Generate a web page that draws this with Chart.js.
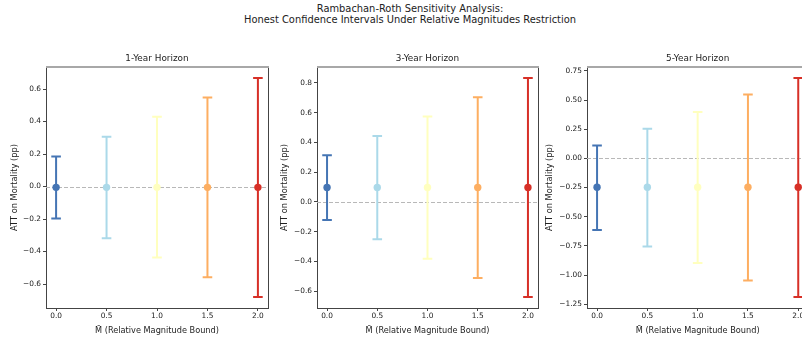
<!DOCTYPE html>
<html>
<head>
<meta charset="utf-8">
<script src="https://cdn.jsdelivr.net/npm/chart.js@4"></script>
<style>
  html, body { margin: 0; padding: 0; background: #fff; }
  #fig { position: relative; width: 802px; height: 341px; overflow: hidden; background: #fff; }
  #suptitle {
    position: absolute; left: 0; top: 3px; width: 820px; text-align: center;
    font-family: "DejaVu Sans", sans-serif; font-size: 9.9px; line-height: 11px; color: #222;
  }
  canvas { position: absolute; top: 50px; }
</style>
</head>
<body>
<div id="fig">
  <div id="suptitle">Rambachan-Roth Sensitivity Analysis:<br>Honest Confidence Intervals Under Relative Magnitudes Restriction</div>
  <canvas id="h1" width="272" height="291" style="left:0px"></canvas>
  <canvas id="h3" width="272" height="291" style="left:270px"></canvas>
  <canvas id="h5" width="272" height="291" style="left:540px"></canvas>
</div>
<script>
// M-bar values (relative magnitude bound)
var mBar = [0.0, 0.5, 1.0, 1.5, 2.0];
var xTicks = [0.0, 0.5, 1.0, 1.5, 2.0];
var barColors = ['#4575b4', '#abd9e9', '#ffffbf', '#fdae61', '#d73027'];

// 1-year horizon
var est1 = [-0.005, -0.005, -0.005, -0.005, -0.005];
var lower1 = [-0.197, -0.318, -0.437, -0.558, -0.680];
var upper1 = [0.185, 0.306, 0.429, 0.548, 0.668];
var yTicks1 = [-0.6, -0.4, -0.2, 0.0, 0.2, 0.4, 0.6];

// 3-year horizon
var est3 = [0.097, 0.097, 0.097, 0.097, 0.097];
var lower3 = [-0.121, -0.250, -0.382, -0.511, -0.639];
var upper3 = [0.313, 0.443, 0.574, 0.704, 0.833];
var yTicks3 = [-0.6, -0.4, -0.2, 0.0, 0.2, 0.4, 0.6, 0.8];

// 5-year horizon
var est5 = [-0.248, -0.248, -0.248, -0.248, -0.248];
var lower5 = [-0.613, -0.755, -0.897, -1.046, -1.188];
var upper5 = [0.111, 0.254, 0.398, 0.547, 0.689];
var yTicks5 = [-1.25, -1.00, -0.75, -0.50, -0.25, 0.00, 0.25, 0.50, 0.75];

var FONT = '"DejaVu Sans", sans-serif';
var TEXT = '#222';
var SPINE = '#444';

function fmt(v, d) {
    return v.toFixed(d).replace('-', '\u2212');
}

// error bars, zero line, subplot title and the top/right spines
var errorBarPlugin = {
    id: 'errorBars',
    beforeDatasetsDraw: function (chart) {
        var ctx = chart.ctx;
        var xs = chart.scales.x, ys = chart.scales.y;
        var area = chart.chartArea;
        var o = chart.options.plugins.errorBars;

        ctx.save();
        ctx.beginPath();
        ctx.rect(area.left, area.top, area.right - area.left, area.bottom - area.top);
        ctx.clip();

        // reference line at zero
        var y0 = Math.round(ys.getPixelForValue(0)) + 0.5;
        ctx.strokeStyle = '#b8b8b8';
        ctx.lineWidth = 1;
        ctx.setLineDash([4, 2]);
        ctx.beginPath();
        ctx.moveTo(area.left, y0);
        ctx.lineTo(area.right, y0);
        ctx.stroke();
        ctx.setLineDash([]);

        ctx.lineWidth = 2;
        for (var i = 0; i < o.x.length; i++) {
            var x = xs.getPixelForValue(o.x[i]);
            var yl = ys.getPixelForValue(o.lower[i]);
            var yu = ys.getPixelForValue(o.upper[i]);
            ctx.strokeStyle = o.colors[i];
            ctx.beginPath();
            ctx.moveTo(x, yl);
            ctx.lineTo(x, yu);
            ctx.moveTo(x - 4.8, yl);
            ctx.lineTo(x + 4.8, yl);
            ctx.moveTo(x - 4.8, yu);
            ctx.lineTo(x + 4.8, yu);
            ctx.stroke();
        }
        ctx.restore();
    },
    afterDraw: function (chart) {
        var ctx = chart.ctx;
        var area = chart.chartArea;
        var o = chart.options.plugins.errorBars;
        ctx.save();
        ctx.strokeStyle = SPINE;
        ctx.lineWidth = 1;
        ctx.beginPath();
        ctx.moveTo(area.right + 0.5, area.top);
        ctx.lineTo(area.right + 0.5, area.bottom);
        ctx.stroke();
        ctx.strokeStyle = '#a8a8a8';
        ctx.lineWidth = 2;
        ctx.beginPath();
        ctx.moveTo(area.left, area.top);
        ctx.lineTo(area.right + 1, area.top);
        ctx.stroke();

        ctx.fillStyle = TEXT;
        ctx.font = '8.9px ' + FONT;
        ctx.textAlign = 'center';
        ctx.textBaseline = 'middle';
        ctx.fillText(o.title, (area.left + area.right) / 2, area.top - 8);
        ctx.restore();
    }
};

function makePanel(id, title, est, lower, upper, yTicks, yDec, padLeft, yWidth, padRight) {
    var lo = Math.min.apply(null, lower), hi = Math.max.apply(null, upper);
    var m = (hi - lo) * 0.05;
    var points = mBar.map(function (v, i) { return { x: v, y: est[i] }; });

    new Chart(document.getElementById(id).getContext('2d'), {
        type: 'scatter',
        data: {
            datasets: [{
                data: points,
                pointRadius: 3.7,
                pointHoverRadius: 3.7,
                pointBorderWidth: 0,
                pointBackgroundColor: barColors,
                borderColor: barColors
            }]
        },
        plugins: [errorBarPlugin],
        options: {
            responsive: false,
            animation: false,
            events: [],
            layout: { padding: { top: 17, left: padLeft, right: padRight, bottom: 5 } },
            plugins: {
                legend: { display: false },
                tooltip: { enabled: false },
                errorBars: { x: mBar, lower: lower, upper: upper, colors: barColors, title: title }
            },
            scales: {
                x: {
                    type: 'linear',
                    min: -0.1,
                    max: 2.1,
                    afterBuildTicks: function (s) { s.ticks = xTicks.map(function (v) { return { value: v }; }); },
                    afterFit: function (s) { s.height = 28; },
                    ticks: {
                        color: TEXT,
                        font: { family: FONT, size: 7.4 },
                        padding: 1,
                        maxRotation: 0,
                        callback: function (v) { return fmt(v, 1); }
                    },
                    grid: { drawOnChartArea: false, drawTicks: true, tickLength: 3, color: SPINE },
                    border: { display: true, color: SPINE, width: 1 },
                    title: {
                        display: true,
                        text: 'M\u0304 (Relative Magnitude Bound)',
                        color: TEXT,
                        font: { family: FONT, size: 8.2 },
                        padding: 0
                    }
                },
                y: {
                    type: 'linear',
                    min: lo - m,
                    max: hi + m,
                    afterBuildTicks: function (s) { s.ticks = yTicks.map(function (v) { return { value: v }; }); },
                    afterFit: function (s) { s.width = yWidth; },
                    ticks: {
                        color: TEXT,
                        font: { family: FONT, size: 7.4 },
                        padding: 2,
                        callback: function (v) { return fmt(v, yDec); }
                    },
                    grid: { drawOnChartArea: false, drawTicks: true, tickLength: 3, color: SPINE },
                    border: { display: true, color: SPINE, width: 1 },
                    title: {
                        display: true,
                        text: 'ATT on Mortality (pp)',
                        color: TEXT,
                        font: { family: FONT, size: 8.3 },
                        padding: 0
                    }
                }
            }
        }
    });
}

makePanel('h1', '1-Year Horizon', est1, lower1, upper1, yTicks1, 1, 10, 36, 4);
makePanel('h3', '3-Year Horizon', est3, lower3, upper3, yTicks3, 1, 10, 37, 4);
makePanel('h5', '5-Year Horizon', est5, lower5, upper5, yTicks5, 2, 5, 42, 3);
</script>
</body>
</html>
